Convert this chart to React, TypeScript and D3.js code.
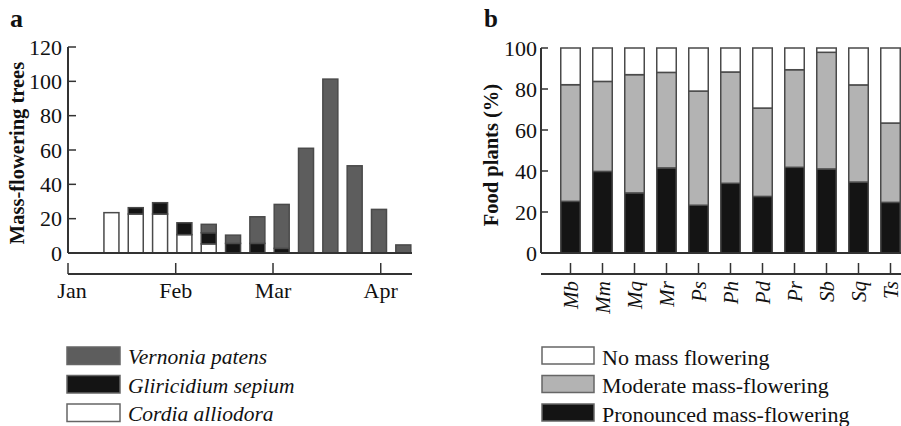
import React from "react";
import * as d3 from "d3";

// Panel a data: weekly counts of mass-flowering trees
const weekDates = [
  "2013-01-13", "2013-01-20", "2013-01-27", "2013-02-03", "2013-02-10",
  "2013-02-17", "2013-02-24", "2013-03-03", "2013-03-10", "2013-03-17",
  "2013-03-24", "2013-03-31", "2013-04-07",
];
const cordia = [23.5, 22.7, 22.7, 10.7, 5.3, 0, 0, 0, 0, 0, 0, 0, 0];
const gliricidium = [0, 3.7, 6.6, 6.9, 6.5, 5.6, 5.6, 2.7, 0, 0, 0, 0, 0];
const vernonia = [0, 0, 0, 0, 4.9, 4.8, 15.5, 25.6, 61, 101.3, 50.8, 25.4, 4.7];
const speciesA = ["Vernonia patens", "Gliricidium sepium", "Cordia alliodora"];
const monthTicks = ["2013-01-01", "2013-02-01", "2013-03-01", "2013-04-01"];
const monthLabels = ["Jan", "Feb", "Mar", "Apr"];
const yTicksA = [0, 20, 40, 60, 80, 100, 120];

// Panel b data: food plants (%)
const plants = ["Mb", "Mm", "Mq", "Mr", "Ps", "Ph", "Pd", "Pr", "Sb", "Sq", "Ts"];
const pronounced = [25.2, 39.8, 29.3, 41.5, 23.3, 34, 27.6, 41.8, 41, 34.6, 24.7];
const moderate = [56.9, 43.9, 57.7, 46.6, 55.7, 54.3, 43.1, 47.6, 56.9, 47.4, 38.7];
const noMass = [17.9, 16.3, 13, 11.9, 21, 11.7, 29.3, 10.6, 2.1, 18, 36.6];
const categoriesB = ["No mass flowering", "Moderate mass-flowering", "Pronounced mass-flowering"];
const yTicksB = [0, 20, 40, 60, 80, 100];

const C_VERN = "#5d5d5d";
const C_GLI = "#141414";
const C_COR = "#ffffff";
const C_NONE = "#ffffff";
const C_MOD = "#b3b3b3";
const C_PRO = "#141414";
const STROKE = "#4a4a4a";
const AXIS = "#333";
const FONT = "'Liberation Serif', 'Times New Roman', serif";

export default function App() {
  const parse = d3.timeParse("%Y-%m-%d");
  const xA = d3
    .scaleTime()
    .domain([parse("2013-01-01")!, parse("2013-04-10")!])
    .range([68, 412]);
  const yA = d3.scaleLinear().domain([0, 120]).range([253, 47]);
  const barWA = 15;
  const halfDay = (d: Date) => d3.timeHour.offset(d, 12);

  const stackA = weekDates.map((w, i) => {
    const segs = [
      { v: cordia[i], fill: C_COR },
      { v: gliricidium[i], fill: C_GLI },
      { v: vernonia[i], fill: C_VERN },
    ];
    let acc = 0;
    return segs.map((s) => {
      const y0 = acc;
      acc += s.v;
      return { x: xA(halfDay(parse(w)!)), y0, y1: acc, fill: s.fill, v: s.v };
    });
  });

  const xB = d3.scalePoint<string>().domain(plants).range([570.5, 890.5]);
  const yB = d3.scaleLinear().domain([0, 100]).range([253, 48]);
  const barWB = 19.5;
  const stackB = plants.map((p, i) => {
    const segs = [
      { v: pronounced[i], fill: C_PRO },
      { v: moderate[i], fill: C_MOD },
      { v: noMass[i], fill: C_NONE },
    ];
    let acc = 0;
    return segs.map((s) => {
      const y0 = acc;
      acc += s.v;
      return { x: xB(p)!, y0, y1: acc, fill: s.fill };
    });
  });

  const legendA = [C_VERN, C_GLI, C_COR];
  const legendB = [C_NONE, C_MOD, C_PRO];
  const legendRowsY = [347, 375.5, 404];

  return (
    <svg
      width={901}
      height={426}
      style={{ position: "absolute", left: 0, top: 0, background: "#fff" }}
      fontFamily={FONT}
    >
      {/* Panel labels */}
      <text x={10} y={27} fontSize={26} fontWeight="bold" fill="#111">a</text>
      <text x={484} y={27} fontSize={25} fontWeight="bold" fill="#111">b</text>

      {/* ===== Panel a ===== */}
      <text
        transform={`translate(17,153) rotate(-90)`}
        textAnchor="middle"
        dominantBaseline="central"
        fontSize={20.5}
        fontWeight="bold"
        fill="#111"
      >
        Mass-flowering trees
      </text>
      {stackA.map((segs, i) =>
        segs
          .filter((s) => s.v > 0)
          .map((s, j) => (
            <rect
              key={`a${i}-${j}`}
              x={s.x - barWA / 2}
              y={yA(s.y1)}
              width={barWA}
              height={yA(s.y0) - yA(s.y1)}
              fill={s.fill}
              stroke={STROKE}
              strokeWidth={1.5}
            />
          ))
      )}
      {/* y axis a */}
      <line x1={68} x2={68} y1={yA(120)} y2={yA(0)} stroke={AXIS} strokeWidth={2} />
      <line x1={68} x2={412} y1={yA(0)} y2={yA(0)} stroke={AXIS} strokeWidth={2} />
      {yTicksA.map((t) => (
        <g key={`ya${t}`}>
          <line x1={68} x2={76} y1={yA(t)} y2={yA(t)} stroke={AXIS} strokeWidth={1.5} />
          <text
            x={62}
            y={yA(t)}
            textAnchor="end"
            dominantBaseline="central"
            fontSize={22}
            fill="#111"
          >
            {t}
          </text>
        </g>
      ))}
      {/* date axis */}
      <line x1={68} x2={412} y1={274} y2={274} stroke={AXIS} strokeWidth={2} />
      {monthTicks.map((m, i) => {
        const x = xA(parse(m)!);
        return (
          <g key={m}>
            <line x1={x} x2={x} y1={263} y2={274} stroke={AXIS} strokeWidth={1.5} />
            <text x={x + (i === 0 ? 4 : 0)} y={298} textAnchor="middle" fontSize={22} fill="#111">
              {monthLabels[i]}
            </text>
          </g>
        );
      })}
      {/* legend a */}
      {speciesA.map((s, i) => (
        <g key={s}>
          <rect
            x={67}
            y={legendRowsY[i]}
            width={53}
            height={17.5}
            fill={legendA[i]}
            stroke="#666"
            strokeWidth={1.5}
          />
          <text
            x={128}
            y={legendRowsY[i] + 10}
            dominantBaseline="central"
            fontSize={21.5}
            fontStyle="italic"
            fill="#111"
          >
            {s}
          </text>
        </g>
      ))}

      {/* ===== Panel b ===== */}
      <text
        transform={`translate(491,155) rotate(-90)`}
        textAnchor="middle"
        dominantBaseline="central"
        fontSize={20.5}
        fontWeight="bold"
        fill="#111"
      >
        Food plants (%)
      </text>
      {stackB.map((segs, i) =>
        segs.map((s, j) => (
          <rect
            key={`b${i}-${j}`}
            x={s.x - barWB / 2}
            y={yB(s.y1)}
            width={barWB}
            height={yB(s.y0) - yB(s.y1)}
            fill={s.fill}
            stroke={STROKE}
            strokeWidth={1.5}
          />
        ))
      )}
      <line x1={541} x2={541} y1={yB(100)} y2={yB(0)} stroke={AXIS} strokeWidth={2} />
      <line x1={541} x2={901} y1={yB(0)} y2={yB(0)} stroke={AXIS} strokeWidth={2} />
      {yTicksB.map((t) => (
        <g key={`yb${t}`}>
          <line x1={541} x2={548} y1={yB(t)} y2={yB(t)} stroke={AXIS} strokeWidth={1.5} />
          <text
            x={537}
            y={yB(t)}
            textAnchor="end"
            dominantBaseline="central"
            fontSize={22}
            fill="#111"
          >
            {t}
          </text>
        </g>
      ))}
      <line x1={541} x2={901} y1={274} y2={274} stroke={AXIS} strokeWidth={2} />
      {plants.map((p) => {
        const x = xB(p)!;
        return (
          <g key={p}>
            <line x1={x} x2={x} y1={263} y2={274} stroke={AXIS} strokeWidth={1.5} />
            <text
              transform={`translate(${x},281) rotate(-90)`}
              textAnchor="end"
              dominantBaseline="central"
              fontSize={21}
              fontStyle="italic"
              fill="#111"
            >
              {p}
            </text>
          </g>
        );
      })}
      {categoriesB.map((c, i) => (
        <g key={c}>
          <rect
            x={542}
            y={legendRowsY[i]}
            width={52}
            height={17}
            fill={legendB[i]}
            stroke="#666"
            strokeWidth={1.5}
          />
          <text
            x={602}
            y={legendRowsY[i] + 10}
            dominantBaseline="central"
            fontSize={22}
            fill="#111"
          >
            {c}
          </text>
        </g>
      ))}
    </svg>
  );
}
